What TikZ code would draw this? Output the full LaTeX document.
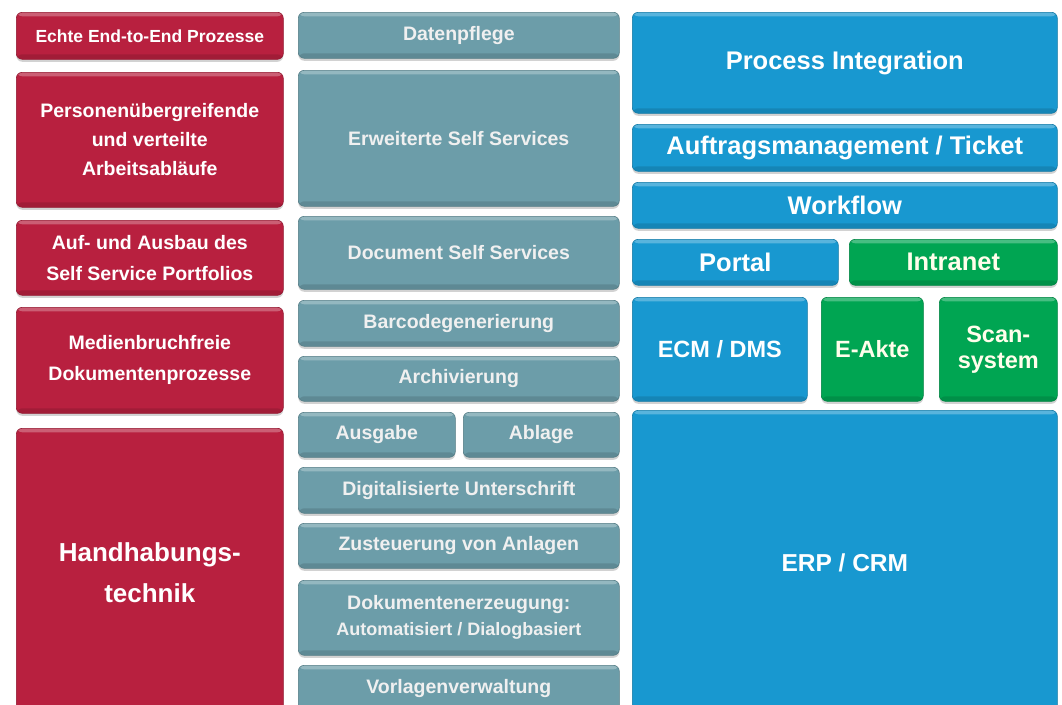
\documentclass[tikz,border=0pt]{standalone}
\usepackage{fontspec}
\setmainfont{Liberation Sans}
\usepackage{xcolor}
\usetikzlibrary{shadows}

\definecolor{zielrot}{HTML}{B8203F}
\definecolor{dienstgrau}{HTML}{6C9DA9}
\definecolor{sysblau}{HTML}{1898D0}
\definecolor{sysgruen}{HTML}{00A552}

\tikzset{
    kachel/.style={rounded corners=6pt, anchor=north west, inner sep=0pt, align=center,
        text=white, draw=#1!80!black, line width=.6pt, fill=#1,
        drop shadow={shadow xshift=0pt, shadow yshift=-2.5pt, opacity=.35},
        path picture={
            \fill[white,opacity=.28] ([yshift=-4pt]path picture bounding box.north west) rectangle (path picture bounding box.north east);
            \fill[black,opacity=.12] ([yshift=5pt]path picture bounding box.south west) rectangle (path picture bounding box.south east);
        }},
    rot/.style={kachel=zielrot, font=\bfseries\fontsize{19.5}{31}\selectfont},
    grau/.style={kachel=dienstgrau, text=white!94!black, font=\bfseries\fontsize{19.5}{26}\selectfont},
    blau/.style={kachel=sysblau, font=\bfseries\fontsize{25.5}{30}\selectfont},
    gruen/.style={kachel=sysgruen, text=white!92!yellow, font=\bfseries\fontsize{25.5}{26}\selectfont},
    groesse/.style 2 args={minimum width=#1pt, minimum height=#2pt}
}

\begin{document}
\begin{tikzpicture}[x=1pt, y=-1pt]
    \useasboundingbox (0,0) rectangle (1062,704);
    \fill[white] (0,0) rectangle (1062,704);
    \clip (0,0) rectangle (1062,704);

    \node[rot, groesse={267}{47}, font=\bfseries\fontsize{17.5}{20}\selectfont] (rot_1) at (16,12) {Echte End-to-End Prozesse};
    \node[rot, groesse={267}{135}, font=\bfseries\fontsize{19.5}{29}\selectfont] (rot_2) at (16,72) {Personenübergreifende\\und verteilte\\Arbeitsabläufe};
    \node[rot, groesse={267}{75}] (rot_3) at (16,220) {Auf- und Ausbau des\\Self Service Portfolios};
    \node[rot, groesse={267}{106}] (rot_4) at (16,307) {Medienbruchfreie\\Dokumentenprozesse};
    \node[rot, groesse={267}{288}, font=\bfseries\fontsize{26}{41}\selectfont] (rot_5) at (16,428) {Handhabungs-\\technik};

    \node[grau, groesse={321}{46}] (mitte_1) at (298,12) {Datenpflege};
    \node[grau, groesse={321}{136}] (mitte_2) at (298,70) {Erweiterte Self Services};
    \node[grau, groesse={321}{73}] (mitte_3) at (298,216) {Document Self Services};
    \node[grau, groesse={321}{46}] (mitte_4) at (298,300) {Barcodegenerierung};
    \node[grau, groesse={321}{45}] (mitte_5) at (298,356) {Archivierung};
    \node[grau, groesse={157}{45}] (mitte_6) at (298,412) {Ausgabe};
    \node[grau, groesse={156}{45}] (mitte_7) at (463,412) {Ablage};
    \node[grau, groesse={321}{46}] (mitte_8) at (298,467) {Digitalisierte Unterschrift};
    \node[grau, groesse={321}{45}] (mitte_9) at (298,523) {Zusteuerung von Anlagen};
    \node[grau, groesse={321}{75}] (mitte_10) at (298,580) {Dokumentenerzeugung:\\{\fontsize{18}{26}\selectfont Automatisiert / Dialogbasiert}};
    \node[grau, groesse={321}{47}] (mitte_11) at (298,665) {Vorlagenverwaltung};

    \node[blau, groesse={425}{101}] (sys_1) at (632,12) {Process Integration};
    \node[blau, groesse={425}{47}] (sys_2) at (632,124) {Auftragsmanagement / Ticket};
    \node[blau, groesse={425}{46}] (sys_3) at (632,182) {Workflow};
    \node[blau, groesse={206}{46}] (sys_4) at (632,239) {Portal};
    \node[gruen, groesse={208}{46}] (sys_5) at (849,239) {Intranet};
    \node[blau, groesse={175}{104}, font=\bfseries\fontsize{23.5}{26}\selectfont] (sys_6) at (632,297) {ECM / DMS};
    \node[gruen, groesse={102}{104}, font=\bfseries\fontsize{23.5}{26}\selectfont] (sys_7) at (821,297) {E-Akte};
    \node[gruen, groesse={118}{104}, font=\bfseries\fontsize{23.5}{26}\selectfont] (sys_8) at (939,297) {Scan-\\system};
    \node[blau, groesse={425}{306}, font=\bfseries\fontsize{24.5}{28}\selectfont] (sys_9) at (632,410) {ERP / CRM};
\end{tikzpicture}
\end{document}
